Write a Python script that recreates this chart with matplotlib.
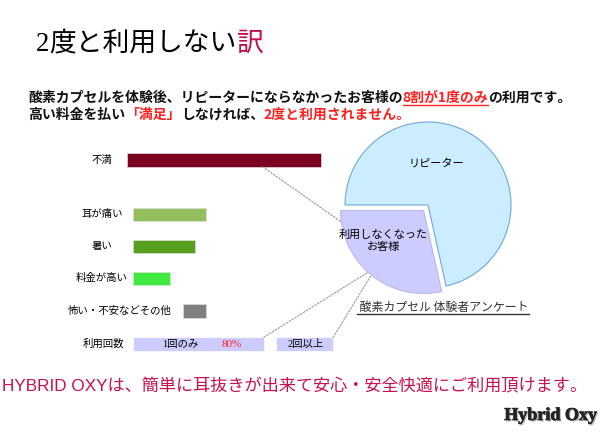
import numpy as np
import matplotlib
matplotlib.use("Agg")
import matplotlib.pyplot as plt
import matplotlib.patheffects as pe
from matplotlib.lines import Line2D
from matplotlib.patches import ConnectionPatch

JP = ["Noto Sans CJK JP", "DejaVu Sans"]
plt.rcParams["font.family"] = JP

# bar data (left offset, length) in survey units
categories = ["不満", "耳が痛い", "暑い", "料金が高い", "怖い・不安などその他"]
bar_left = [0, 2.7, 2.7, 2.7, 25.5]
bar_value = [88, 33, 28, 17, 10.5]
bar_colors = ["#7B0020", "#93BF5D", "#589E1E", "#3FE93F", "#808080"]

usage_label = "利用回数"
usage_parts = ["1回のみ", "2回以上"]
usage_left = [2.7, 67.7]
usage_value = [59.5, 26]
usage_pct = "80%"

pie_labels = ["利用しなくなった\nお客様", "リピーター"]
pie_values = [28.5, 71.5]
pie_colors = ["#CCCCFF", "#CCECFF"]

fig = plt.figure(figsize=(6, 4.32), dpi=100)
W, H = 600, 432
renderer = fig.canvas.get_renderer()


def segments(x, y, parts, size, weight="normal"):
    # draw consecutive text pieces in pixel coordinates (top-left origin)
    fx = x / W
    fy = 1 - y / H
    for text, color, under, fam in parts:
        t = fig.text(fx, fy, text, color=color, fontsize=size, weight=weight,
                     family=fam, va="baseline")
        bb = t.get_window_extent(renderer)
        nx = fx + bb.width / fig.bbox.width
        if under:
            fig.add_artist(Line2D([fx, nx], [fy - 2.5 / H] * 2, color=color, lw=1))
        fx = nx


# title
segments(36, 51, [("2", "black", False, ["Liberation Serif"]),
                  ("度と利用しない", "black", False, JP),
                  ("訳", "#C0104A", False, JP)], 19.3)

red = "#FF2020"
segments(28, 102, [("酸素カプセルを体験後、リピーターにならなかったお客様の", "#111111", False, JP),
                   ("8割が1度のみ", red, True, JP),
                   ("の利用です。", "#111111", False, JP)], 10, "bold")
segments(28, 119, [("高い料金を払い", "#111111", False, JP),
                   ("「満足」", red, False, JP),
                   ("しなければ、", "#111111", False, JP),
                   ("2度と利用されません。", red, False, JP)], 10, "bold")

# bars
ax = fig.add_axes([127 / W, 1 - 360 / H, 220 / W, 216 / H])
ypos = [0, 1.7, 2.7, 3.7, 4.72]
uy = 5.75
ax.barh(ypos, bar_value, left=bar_left, height=0.42, color=bar_colors,
        edgecolor="#dddddd", linewidth=0.5)
ax.barh([uy] * 2, usage_value, left=usage_left, height=0.42, color="#CCCCFF",
        edgecolor="white", linewidth=0.5)
ax.set_xlim(0, 100)
ax.set_ylim(6.25, -0.5)
ax.axis("off")

for i, name in enumerate(categories):
    if i == 4:
        ax.text(bar_left[i] - 5.5, ypos[i], name, ha="right", va="center", fontsize=7.5)
    else:
        ax.text(-11.4, ypos[i], name, ha="center", va="center", fontsize=7.5)
ax.text(-10.5, uy, usage_label, ha="center", va="center", fontsize=7.5)
ax.text(24, uy, usage_parts[0], ha="center", va="center", fontsize=7.5,
        family=["Liberation Serif", "Noto Sans CJK JP"])
ax.text(47.5, uy, usage_pct, ha="center", va="center", fontsize=8,
        color="#FF2020", family=["Liberation Serif"])
ax.text(81, uy, usage_parts[1], ha="center", va="center", fontsize=7.5,
        family=["Liberation Serif", "Noto Sans CJK JP"])

# pie
r = 83
cx, cy = 428, 205
pax = fig.add_axes([(cx - 1.2 * r) / W, 1 - (cy + 1.2 * r) / H, 2.4 * r / W, 2.4 * r / H])
explode = 0.085
wedges, _ = pax.pie(pie_values, colors=pie_colors, startangle=180,
                    explode=[explode, 0], wedgeprops=dict(linewidth=0.8, edgecolor="#6FA8DC"))
wedges[0].set_edgecolor("#B8B8F0")
pax.set_xlim(-1.2, 1.2)
pax.set_ylim(-1.2, 1.2)
pax.set_aspect("equal")
pax.axis("off")

pax.text(0.1, 0.5, pie_labels[1], ha="center", va="center", fontsize=8)
pax.text(-0.54, -0.43, pie_labels[0], ha="center", va="center", fontsize=8,
         linespacing=1.2)

w0 = wedges[0]
bis = np.deg2rad((w0.theta1 + w0.theta2) / 2)
off = np.array([np.cos(bis), np.sin(bis)]) * explode


def arc_pt(deg):
    a = np.deg2rad(deg)
    return tuple(off + np.array([np.cos(a), np.sin(a)]))


links = [((bar_left[0] + bar_value[0] * 0.7, 0.21), arc_pt(w0.theta1 + 8)),
         ((usage_left[0] + usage_value[0], uy - 0.21), arc_pt(w0.theta1 + 48)),
         ((usage_left[1] + usage_value[1], uy - 0.21), arc_pt(w0.theta1 + 51))]
for a, b in links:
    fig.add_artist(ConnectionPatch(xyA=a, coordsA=ax.transData, xyB=b,
                                   coordsB=pax.transData, linestyle=(0, (1.5, 1.5)),
                                   color="#999999", lw=0.8))

segments(357, 311, [(" 酸素カプセル 体験者アンケート", "#333333", True, JP)], 8.6)

# footer
segments(2, 391, [("HYBRID OXYは、簡単に耳抜きが出来て安心・安全快適にご利用頂けます。",
                   "#C8104A", False, ["Liberation Sans", "Noto Sans CJK JP"])], 12.35)

t = fig.text(597 / W, 1 - 420 / H, "Hybrid Oxy", ha="right", va="baseline",
             fontsize=13, weight="bold", family=["Liberation Serif"], color="#222222")
t.set_path_effects([pe.withSimplePatchShadow(offset=(1, -1), shadow_rgbFace="#777777",
                                             alpha=0.6), pe.Stroke(linewidth=0.6, foreground="#444444"),
                    pe.Normal()])

fig.savefig("out.png", dpi=100)
